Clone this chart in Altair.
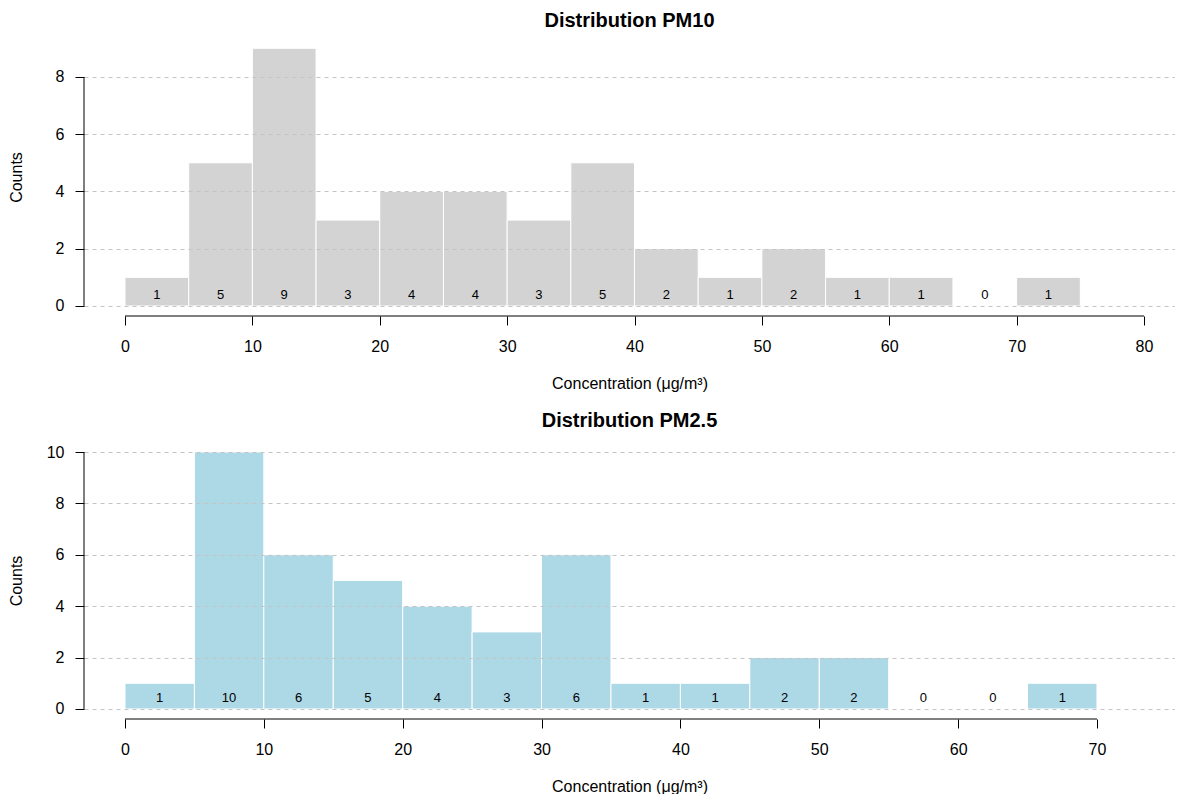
import altair as alt
import pandas as pd

# ---------------- data ----------------
pm10_bin_start = [0, 5, 10, 15, 20, 25, 30, 35, 40, 45, 50, 55, 60, 65, 70]
pm10_counts = [1, 5, 9, 3, 4, 4, 3, 5, 2, 1, 2, 1, 1, 0, 1]
pm25_bin_start = [0, 5, 10, 15, 20, 25, 30, 35, 40, 45, 50, 55, 60, 65]
pm25_counts = [1, 10, 6, 5, 4, 3, 6, 1, 1, 2, 2, 0, 0, 1]
bin_width = 5

pm10_x_ticks = [0, 10, 20, 30, 40, 50, 60, 70, 80]
pm10_y_ticks = [0, 2, 4, 6, 8]
pm25_x_ticks = [0, 10, 20, 30, 40, 50, 60, 70]
pm25_y_ticks = [0, 2, 4, 6, 8, 10]

x_title = "Concentration (\u03bcg/m\u00b3)"
FONT = "Liberation Sans"
W = 1091


def panel(starts, counts, xticks, yticks, xdom, ydom, H, color, title,
          title_offset):
    df = pd.DataFrame({
        "start": starts,
        "end": [s + bin_width for s in starts],
        "mid": [s + bin_width / 2 for s in starts],
        "count": counts,
        "zero": [0] * len(starts),
    })
    xs = alt.Scale(domain=xdom, nice=False, zero=False)
    ys = alt.Scale(domain=ydom, nice=False, zero=False)
    xaxis = alt.Axis(values=xticks, grid=False, domain=False, tickSize=9,
                     tickColor="#000", labelFontSize=16, labelColor="#000",
                     labelPadding=13, title=x_title, titleFontSize=16,
                     titleFontWeight="normal", titleColor="#000",
                     titleY=67, titleX=W / 2, titleBaseline="middle",
                     titleAlign="center", format="d")
    yaxis = alt.Axis(values=yticks, grid=True, gridDash=[4, 4],
                     gridColor="#c4c4c4", gridWidth=1, domain=False,
                     tickSize=9, tickColor="#000", labelFontSize=16,
                     labelColor="#000", labelPadding=11, title="Counts",
                     titleFontSize=16, titleFontWeight="normal",
                     titleColor="#000", titleX=-68, titleY=H / 2,
                     titleBaseline="middle", titleAlign="center",
                     titleAngle=270, zindex=1, format="d")
    bars = alt.Chart(df).mark_rect(color=color, stroke="white",
                                   strokeWidth=1).encode(
        x=alt.X("start:Q", scale=xs, axis=xaxis),
        x2="end:Q",
        y=alt.Y("count:Q", scale=ys, axis=yaxis),
        y2="zero:Q",
    )
    labels = alt.Chart(df).mark_text(fontSize=13, dy=-11, baseline="middle",
                                     color="#000").encode(
        x=alt.X("mid:Q", scale=xs),
        y=alt.Y("zero:Q", scale=ys),
        text="count:Q",
    )
    xline_df = pd.DataFrame({"a": [min(xticks)], "b": [max(xticks)]})
    xline = alt.Chart(xline_df).mark_rule(color="#000", strokeWidth=1).encode(
        x=alt.X("a:Q", scale=xs), x2="b:Q", y=alt.value(H))
    yline_df = pd.DataFrame({"a": [min(yticks)], "b": [max(yticks)]})
    yline = alt.Chart(yline_df).mark_rule(color="#000", strokeWidth=1).encode(
        y=alt.Y("a:Q", scale=ys), y2="b:Q", x=alt.value(0))
    return alt.layer(bars, labels, xline, yline).properties(
        width=W, height=H,
        title=alt.TitleParams(title, fontSize=20, fontWeight="bold",
                              color="#000", anchor="middle",
                              baseline="alphabetic", offset=title_offset),
    )


PX10 = 12.7375
PX25 = 13.886
top = panel(pm10_bin_start, pm10_counts, pm10_x_ticks, pm10_y_ticks,
            [-3.22, -3.22 + W / PX10], [-0.35, 9.36], 278, "#d3d3d3",
            "Distribution PM10", -8.5)
bottom = panel(pm25_bin_start, pm25_counts, pm25_x_ticks, pm25_y_ticks,
               [-2.95, -2.95 + W / PX25], [-0.39, 10.39], 277, "#add8e6",
               "Distribution PM2.5", -5)

chart = alt.vconcat(top, bottom, spacing=126, bounds="flush").properties(
    padding={"top": 2, "left": 0, "right": 0, "bottom": 0}
).configure(font=FONT).configure_view(stroke=None)

chart.save("out.html", embed_options={"renderer": "svg", "actions": False})
